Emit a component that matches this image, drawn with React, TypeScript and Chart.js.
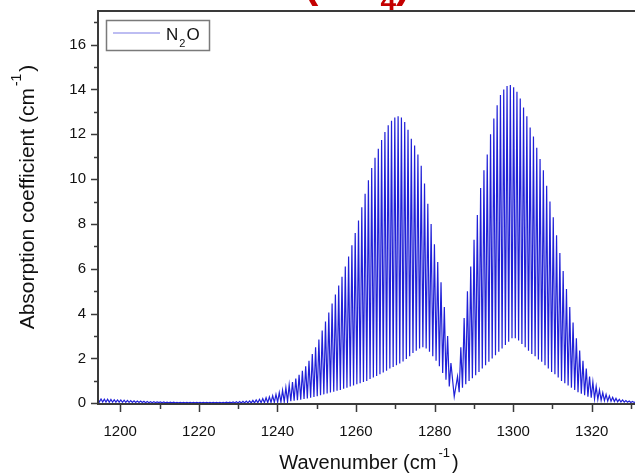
import React, { useEffect, useRef } from "react";
import { Chart, registerables } from "chart.js";

Chart.register(...registerables);

// ---- data ----
const seriesLabel = "N₂O";
const bandCenter = 1285.0; // Q-branch gap (cm-1)
const lineSpacing = 0.84; // spacing between rotational lines (cm-1)
const centerDip = 0.3;

// P-branch lines, from the band centre outward (lower wavenumbers)
const pBranchPeaks = [
  1.8, 3.0, 4.3, 5.4, 6.3, 7.1, 8.0, 8.9, 9.8, 10.6,
  11.1, 11.5, 11.8, 12.2, 12.55, 12.75, 12.8, 12.75, 12.6, 12.4,
  12.1, 11.75, 11.35, 10.95, 10.5, 9.95, 9.35, 8.75, 8.15, 7.6,
  7.05, 6.55, 6.1, 5.65, 5.25, 4.85, 4.45, 4.05, 3.65, 3.25,
  2.85, 2.5, 2.2, 1.9, 1.65, 1.45, 1.27, 1.1, 0.95, 0.82,
  0.7, 0.58, 0.48, 0.4, 0.34, 0.29, 0.25, 0.21, 0.18, 0.15,
  0.13, 0.11, 0.1, 0.09, 0.08, 0.07, 0.06, 0.05, 0.05, 0.04,
  0.04, 0.04, 0.04, 0.04, 0.04, 0.04, 0.04, 0.04, 0.04, 0.04,
  0.04, 0.04, 0.04, 0.045, 0.05, 0.05, 0.055, 0.06, 0.06, 0.065,
  0.07, 0.075, 0.08, 0.09, 0.1, 0.1, 0.11, 0.12, 0.13, 0.14,
  0.15, 0.15, 0.16, 0.17, 0.18, 0.18, 0.19, 0.2,
];
const pBranchValleys = [
  0.75, 1.05, 1.35, 1.65, 1.9, 2.1, 2.3, 2.45, 2.5, 2.45,
  2.35, 2.25, 2.1, 1.98, 1.87, 1.78, 1.7, 1.62, 1.55, 1.45,
  1.38, 1.3, 1.22, 1.15, 1.08, 1.0, 0.95, 0.9, 0.85, 0.8,
  0.75, 0.7, 0.65, 0.6, 0.56, 0.52, 0.48, 0.44, 0.4, 0.36,
  0.32, 0.28, 0.25, 0.22, 0.19, 0.16, 0.14, 0.12, 0.1, 0.08,
  0.07, 0.06, 0.05, 0.04, 0.04, 0.03, 0.03, 0.03, 0.03, 0.02,
  0.02, 0.02, 0.02, 0.02, 0.02, 0.02, 0.02, 0.02, 0.02, 0.02,
  0.02, 0.02, 0.02, 0.02, 0.02, 0.02, 0.02, 0.02, 0.02, 0.02,
  0.02, 0.02, 0.02, 0.02, 0.02, 0.02, 0.025, 0.025, 0.03, 0.03,
  0.03, 0.03, 0.03, 0.035, 0.035, 0.04, 0.04, 0.04, 0.045, 0.045,
  0.05, 0.05, 0.05, 0.05, 0.055, 0.055, 0.06, 0.06,
];

// R-branch lines, from the band centre outward (higher wavenumbers)
const rBranchPeaks = [
  1.2, 2.5, 3.8, 5.0, 6.1, 7.3, 8.4, 9.6, 10.4, 11.1,
  12.0, 12.7, 13.3, 13.75, 14.0, 14.15, 14.2, 14.1, 13.9, 13.6,
  13.2, 12.8, 12.3, 11.9, 11.4, 10.9, 10.4, 9.7, 9.0, 8.3,
  7.5, 6.7, 5.9, 5.1, 4.3, 3.6, 2.9, 2.35, 1.9, 1.55,
  1.2, 0.95, 0.75, 0.6, 0.48, 0.4, 0.33, 0.27, 0.22, 0.18,
  0.15, 0.12, 0.1, 0.08, 0.07,
];
const rBranchValleys = [
  0.5, 0.7, 0.85, 1.0, 1.12, 1.25, 1.4, 1.55, 1.7, 1.85,
  2.0, 2.15, 2.3, 2.45, 2.6, 2.75, 2.9, 2.9, 2.8, 2.65,
  2.5, 2.35, 2.2, 2.1, 1.95, 1.85, 1.7, 1.55, 1.4, 1.3,
  1.15, 1.0, 0.9, 0.8, 0.7, 0.6, 0.5, 0.43, 0.36, 0.3,
  0.25, 0.2, 0.17, 0.14, 0.12, 0.1, 0.09, 0.08, 0.07, 0.06,
  0.05, 0.05, 0.04, 0.04, 0.04,
];

const xMin = 1194.35;
const xMax = 1331;
const yMin = -0.03;
const yMax = 17.5;
const xMinorStep = 10;
const xLabelStep = 20;
const yMinorStep = 1;
const yLabelStep = 2;

const xTitle = "Wavenumber (cm";
const yTitle = "Absorption coefficient (cm";
const unitSup = "-1";
const headMain = "CH";
const headSub = "4";

const FONT = "'Liberation Sans', Arial, Helvetica, sans-serif";
const LINE_COLOR = "#2020d8";

function buildPoints() {
  const pts: { x: number; y: number }[] = [];
  for (let j = pBranchPeaks.length; j >= 1; j--) {
    const x = bandCenter - lineSpacing * j;
    pts.push({ x: x - lineSpacing / 2, y: pBranchValleys[j - 1] });
    pts.push({ x, y: pBranchPeaks[j - 1] });
  }
  pts.push({ x: bandCenter, y: centerDip });
  for (let j = 0; j < rBranchPeaks.length; j++) {
    const x = bandCenter + lineSpacing * (j + 1);
    pts.push({ x, y: rBranchPeaks[j] });
    pts.push({ x: x + lineSpacing / 2, y: rBranchValleys[j] });
  }
  return pts;
}

function drawUnitText(
  ctx: CanvasRenderingContext2D,
  main: string,
  x: number,
  y: number,
  size: number
) {
  ctx.font = `${size}px ${FONT}`;
  const w1 = ctx.measureText(main).width;
  const supSize = Math.round(size * 0.65);
  ctx.font = `${supSize}px ${FONT}`;
  const w2 = ctx.measureText(unitSup).width;
  ctx.font = `${size}px ${FONT}`;
  const w3 = ctx.measureText(")").width;
  const gap = 2;
  const total = w1 + gap + w2 + gap + w3;
  let cx = x - total / 2;
  ctx.textAlign = "left";
  ctx.textBaseline = "alphabetic";
  ctx.fillText(main, cx, y);
  cx += w1 + gap;
  ctx.font = `${supSize}px ${FONT}`;
  ctx.fillText(unitSup, cx, y - size * 0.62);
  cx += w2 + gap;
  ctx.font = `${size}px ${FONT}`;
  ctx.fillText(")", cx, y);
}

const decorPlugin = {
  id: "decor",
  afterDraw(chart: any) {
    const { ctx, chartArea: a, scales } = chart;
    const xs = scales.x;
    const ys = scales.y;
    ctx.save();
    ctx.strokeStyle = "#3a3a3a";
    ctx.lineWidth = 2;
    ctx.beginPath();
    ctx.moveTo(a.left, a.bottom + 1);
    ctx.lineTo(a.left, a.top);
    ctx.lineTo(a.right + 2, a.top);
    ctx.moveTo(a.left - 1, a.bottom);
    ctx.lineTo(a.right + 2, a.bottom);
    ctx.stroke();

    ctx.lineWidth = 1.5;
    ctx.beginPath();
    for (const t of ys.ticks) {
      const y = Math.round(ys.getPixelForValue(t.value)) + 0.5;
      const len = t.value % yLabelStep === 0 ? 7 : 4;
      ctx.moveTo(a.left - len, y);
      ctx.lineTo(a.left, y);
    }
    for (const t of xs.ticks) {
      const x = Math.round(xs.getPixelForValue(t.value)) + 0.5;
      const len = t.value % xLabelStep === 0 ? 8 : 5;
      ctx.moveTo(x, a.bottom);
      ctx.lineTo(x, a.bottom + len);
    }
    ctx.stroke();

    // legend
    const lx = 106, ly = 20, lw = 103, lh = 30;
    ctx.strokeStyle = "#7a7a7a";
    ctx.lineWidth = 1.5;
    ctx.strokeRect(lx + 0.5, ly + 0.5, lw, lh);
    ctx.strokeStyle = "#7c7ce6";
    ctx.lineWidth = 1.2;
    ctx.beginPath();
    ctx.moveTo(113, 33);
    ctx.lineTo(160, 33);
    ctx.stroke();
    ctx.fillStyle = "#111";
    ctx.textAlign = "left";
    ctx.textBaseline = "alphabetic";
    ctx.font = `17px ${FONT}`;
    const nW = ctx.measureText("N").width;
    ctx.fillText("N", 166, 40);
    ctx.font = `11px ${FONT}`;
    const sW = ctx.measureText("2").width;
    ctx.fillText("2", 166 + nW + 1, 47);
    ctx.font = `17px ${FONT}`;
    ctx.fillText("O", 166 + nW + 2 + sW, 40);

    // axis titles
    ctx.fillStyle = "#111";
    drawUnitText(ctx, xTitle, 369, 469, 20);
    ctx.save();
    ctx.translate(34, 197);
    ctx.rotate(-Math.PI / 2);
    drawUnitText(ctx, yTitle, 0, 0, 21);
    ctx.restore();

    // red heading, mostly above the picture
    ctx.fillStyle = "#c40000";
    ctx.font = `bold 43px ${FONT}`;
    let hx = 304;
    const hy = -3;
    ctx.fillText("(", hx, hy);
    hx += ctx.measureText("(").width;
    ctx.fillText(headMain, hx, hy);
    hx += ctx.measureText(headMain).width;
    ctx.font = `bold 28px ${FONT}`;
    ctx.fillText(headSub, hx, hy + 13);
    hx += ctx.measureText(headSub).width;
    ctx.font = `bold 43px ${FONT}`;
    ctx.fillText(")", hx, hy);
    ctx.restore();
  },
};

export default function App() {
  const ref = useRef<HTMLCanvasElement | null>(null);
  useEffect(() => {
    document.body.style.margin = "0";
    const canvas = ref.current;
    if (!canvas) return;
    const chart = new Chart(canvas, {
      type: "line",
      data: {
        datasets: [
          {
            label: seriesLabel,
            data: buildPoints(),
            borderColor: LINE_COLOR,
            borderWidth: 1.2,
            pointRadius: 0,
            tension: 0,
            fill: false,
          },
        ],
      },
      options: {
        animation: false,
        responsive: false,
        maintainAspectRatio: false,
        devicePixelRatio: 1,
        layout: { padding: { top: 11, right: 0, left: 0, bottom: 0 } },
        plugins: {
          legend: { display: false },
          tooltip: { enabled: false },
          title: { display: false },
        },
        scales: {
          x: {
            type: "linear",
            min: xMin,
            max: xMax,
            grid: { display: false, drawTicks: false },
            border: { display: false },
            ticks: {
              stepSize: xMinorStep,
              includeBounds: false,
              autoSkip: false,
              maxRotation: 0,
              padding: 19,
              color: "#111",
              font: { family: FONT, size: 15 },
              callback: (v: any) => (Number(v) % xLabelStep === 0 ? String(v) : ""),
            },
            afterFit: (s: any) => {
              s.height = 70;
              s.paddingLeft = 0;
              s.paddingRight = 0;
            },
          },
          y: {
            type: "linear",
            min: yMin,
            max: yMax,
            grid: { display: false, drawTicks: false },
            border: { display: false },
            ticks: {
              stepSize: yMinorStep,
              includeBounds: false,
              autoSkip: false,
              padding: 12,
              color: "#111",
              font: { family: FONT, size: 15 },
              callback: (v: any) => (Number(v) % yLabelStep === 0 ? String(v) : ""),
            },
            afterFit: (s: any) => {
              s.width = 98;
              s.paddingTop = 0;
              s.paddingBottom = 0;
            },
          },
        },
      },
      plugins: [decorPlugin],
    });
    return () => chart.destroy();
  }, []);
  return (
    <div style={{ position: "absolute", left: 0, top: 0, width: 635, height: 474 }}>
      <canvas ref={ref} width={635} height={474} style={{ display: "block" }} />
    </div>
  );
}
